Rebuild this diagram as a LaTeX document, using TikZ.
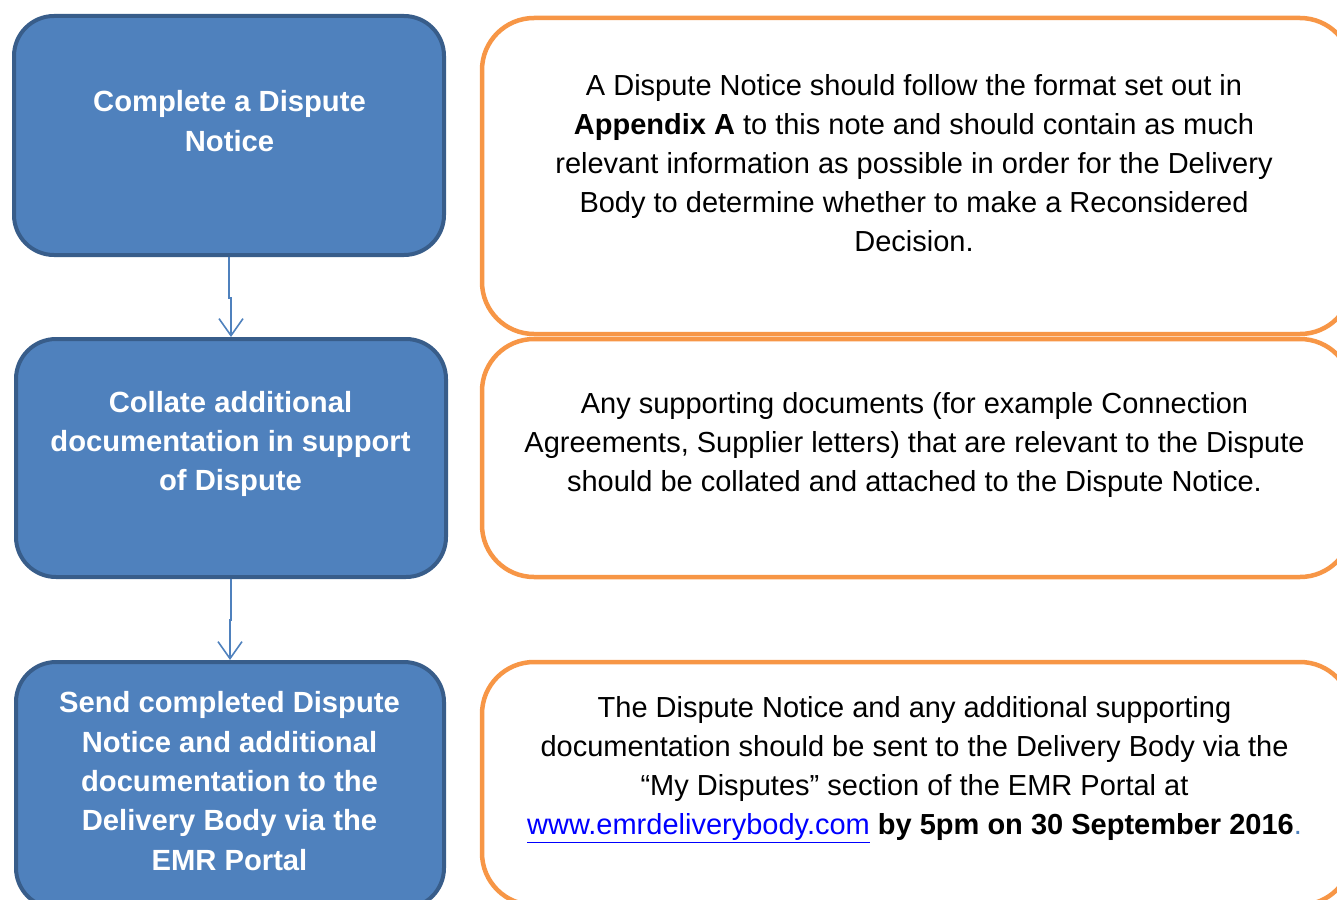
\documentclass[tikz,border=0pt]{standalone}
\usepackage{fontspec}
\setmainfont{Liberation Sans}
\usetikzlibrary{arrows.meta}
\definecolor{bfill}{HTML}{4F81BD}
\definecolor{bline}{HTML}{385D8A}
\definecolor{oline}{HTML}{F79646}
\definecolor{linkblue}{HTML}{0000FF}
\tikzset{
  bluebox/.style={draw=bline, fill=bfill, line width=4pt, rounded corners=40pt, inner sep=0pt},
  orangebox/.style={draw=oline, fill=white, line width=4.5pt, rounded corners=52pt, inner sep=0pt},
  bluetxt/.style={text=white, font=\fontsize{29.2}{39.3}\selectfont\bfseries, align=center, inner sep=0pt},
  orangetxt/.style={text=black, font=\fontsize{29}{39}\selectfont, align=center, inner sep=0pt},
  arr/.style={draw=bfill, line width=1.6pt, -{Straight Barb[length=17pt,width=24pt,line width=1.6pt]}}
}
\begin{document}
\begin{tikzpicture}[x=1pt,y=-1pt]
\useasboundingbox (0,0) rectangle (1337,899);
\clip (0,0) rectangle (1337,899);
% orange boxes
\draw[orangebox] (482,18) rectangle (1352,334);
\draw[orangebox] (482,339) rectangle (1352,577);
\draw[orangebox] (482,662) rectangle (1352,905);
% blue boxes
\node[bluebox, minimum width=430pt, minimum height=239pt] (b1) at (229,135.5) {};
\node[bluebox, minimum width=430pt, minimum height=238pt] (b2) at (231,458) {};
\node[bluebox, minimum width=428pt, minimum height=246pt] (b3) at (230,785) {};
% blue texts
\node[bluetxt] (t1) at (229.5,121) {Complete a Dispute\\Notice};
\node[bluetxt] (t2) at (230.5,444) {Collate additional\\documentation in support\\of Dispute};
\node[bluetxt] (t3) at (229.5,781) {Send completed Dispute\\Notice and additional\\documentation to the\\Delivery Body via the\\EMR Portal};
% orange texts
\node[orangetxt] (u1) at (914,163) {A Dispute Notice should follow the format set out in\\\textbf{Appendix A} to this note and should contain as much\\relevant information as possible in order for the Delivery\\Body to determine whether to make a Reconsidered\\Decision.};
\node[orangetxt] (u2) at (914.5,445) {Any supporting documents (for example Connection\\Agreements, Supplier letters) that are relevant to the Dispute\\should be collated and attached to the Dispute Notice.};
\node[orangetxt] (u3) at (914.5,769.5) {The Dispute Notice and any additional supporting\\documentation should be sent to the Delivery Body via the\\“My Disputes” section of the EMR Portal at\\{\color{linkblue}\underline{www.emrdeliverybody.com}} \textbf{by 5pm on 30 September 2016}{\color{bfill}.}};
% arrows
\draw[arr] (b1.south) -- ++(0,41) -| (b2.north);
\draw[arr] (b2.south) -- ++(0,41) -| (b3.north);
\end{tikzpicture}
\end{document}
